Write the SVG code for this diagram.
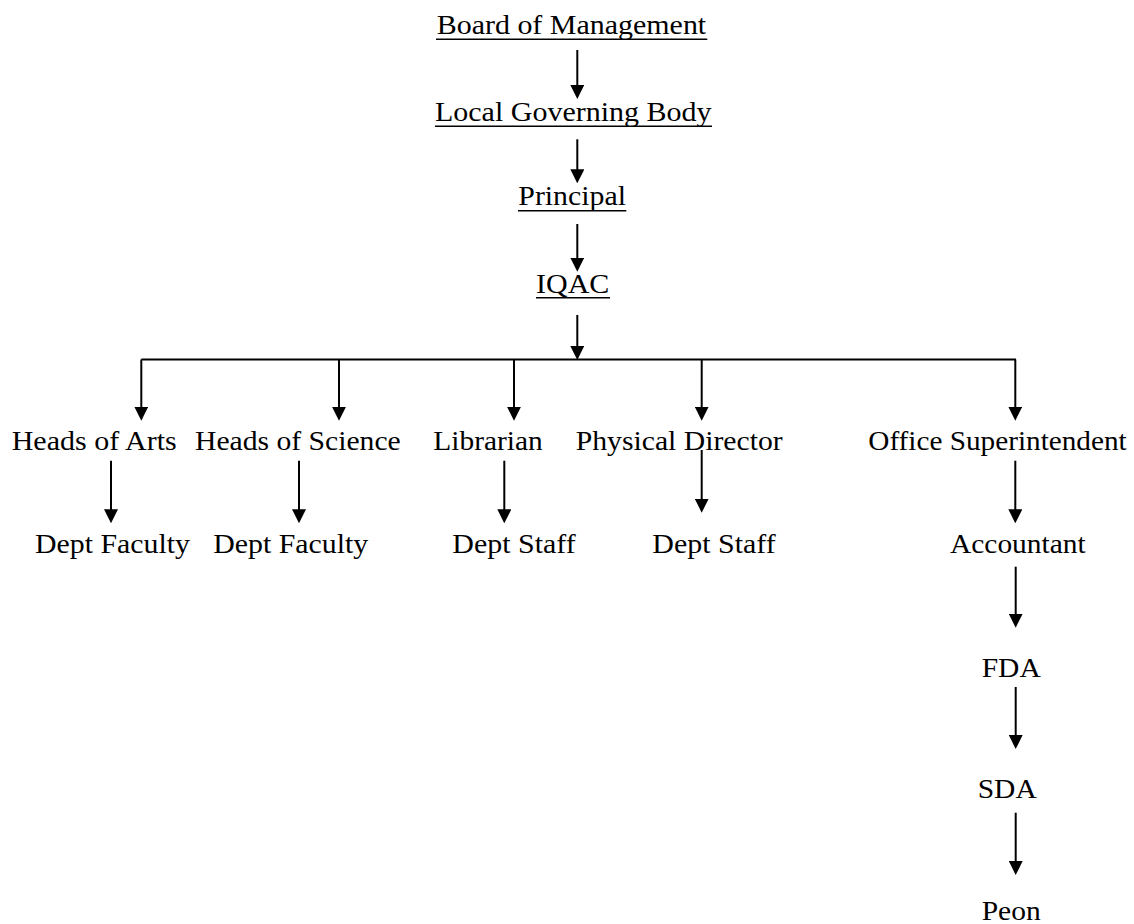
<svg xmlns="http://www.w3.org/2000/svg" width="1134" height="924" viewBox="0 0 1134 924">
<style>
text{font-family:"Liberation Serif","Times New Roman",serif;font-size:28px;fill:#000}
.u{stroke:#000;stroke-width:1.6}
.c line{stroke:#000;stroke-width:2}
.c line.a{marker-end:url(#ah)}
</style>
<defs>
<marker id="ah" viewBox="0 0 14 14" refX="4" refY="7" markerWidth="14" markerHeight="14" markerUnits="userSpaceOnUse" orient="auto">
<path d="M0,0 L14,7 L0,14 z" fill="#000"/>
</marker>
</defs>
<rect width="1134" height="924" fill="#fff"/>
<g class="c" id="connectors">
<line class="a" x1="577.3" y1="50" x2="577.3" y2="89"/>
<line class="a" x1="577.3" y1="139.3" x2="577.3" y2="173.3"/>
<line class="a" x1="577.3" y1="224" x2="577.3" y2="261.7"/>
<line class="a" x1="577.3" y1="315" x2="577.3" y2="350"/>
<line x1="141.3" y1="359.5" x2="1016" y2="359.5"/>
<line class="a" x1="141.3" y1="359.5" x2="141.3" y2="410.7"/>
<line class="a" x1="339" y1="359.5" x2="339" y2="410.7"/>
<line class="a" x1="514" y1="359.5" x2="514" y2="410.7"/>
<line class="a" x1="701.7" y1="359.5" x2="701.7" y2="410.7"/>
<line class="a" x1="1015.3" y1="359.5" x2="1015.3" y2="410.7"/>
<line class="a" x1="111" y1="460.7" x2="111" y2="513.3"/>
<line class="a" x1="299" y1="460.7" x2="299" y2="513.3"/>
<line class="a" x1="504.3" y1="460.7" x2="504.3" y2="513.3"/>
<line class="a" x1="701.7" y1="450" x2="701.7" y2="502.7"/>
<line class="a" x1="1015.3" y1="460.7" x2="1015.3" y2="513.3"/>
<line class="a" x1="1015.7" y1="566.7" x2="1015.7" y2="617.7"/>
<line class="a" x1="1015.7" y1="687" x2="1015.7" y2="739"/>
<line class="a" x1="1015.7" y1="812.7" x2="1015.7" y2="865"/>
</g>
<g id="board">
<text x="436.7" y="34" textLength="269.5" lengthAdjust="spacingAndGlyphs">Board of Management</text>
<line class="u" x1="436" y1="39.3" x2="707.3" y2="39.3"/>
</g>
<g id="lgb">
<text x="435" y="121" textLength="276.5" lengthAdjust="spacingAndGlyphs">Local Governing Body</text>
<line class="u" x1="435" y1="126.2" x2="712" y2="126.2"/>
</g>
<g id="principal">
<text x="518.3" y="205.3" textLength="107.7" lengthAdjust="spacingAndGlyphs">Principal</text>
<line class="u" x1="518" y1="210.7" x2="626.3" y2="210.7"/>
</g>
<g id="iqac">
<text x="536" y="292.5" textLength="73.3" lengthAdjust="spacingAndGlyphs">IQAC</text>
<line class="u" x1="536" y1="297.7" x2="610" y2="297.7"/>
</g>
<g id="heads-arts"><text x="11.7" y="449.5" textLength="165" lengthAdjust="spacingAndGlyphs">Heads of Arts</text></g>
<g id="heads-science"><text x="195" y="449.5" textLength="205.7" lengthAdjust="spacingAndGlyphs">Heads of Science</text></g>
<g id="librarian"><text x="433.3" y="449.5" textLength="109.4" lengthAdjust="spacingAndGlyphs">Librarian</text></g>
<g id="physical-director"><text x="575.7" y="449.5" textLength="207" lengthAdjust="spacingAndGlyphs">Physical Director</text></g>
<g id="office-sup"><text x="868.3" y="449.5" textLength="258.4" lengthAdjust="spacingAndGlyphs">Office Superintendent</text></g>
<g id="dept-faculty-1"><text x="35" y="553.3" textLength="155" lengthAdjust="spacingAndGlyphs">Dept Faculty</text></g>
<g id="dept-faculty-2"><text x="213.3" y="553.3" textLength="155" lengthAdjust="spacingAndGlyphs">Dept Faculty</text></g>
<g id="dept-staff-1"><text x="452.3" y="553.3" textLength="123.4" lengthAdjust="spacingAndGlyphs">Dept Staff</text></g>
<g id="dept-staff-2"><text x="652.3" y="553.3" textLength="123.4" lengthAdjust="spacingAndGlyphs">Dept Staff</text></g>
<g id="accountant"><text x="950" y="553.3" textLength="135.7" lengthAdjust="spacingAndGlyphs">Accountant</text></g>
<g id="fda"><text x="981.7" y="676.7" textLength="59" lengthAdjust="spacingAndGlyphs">FDA</text></g>
<g id="sda"><text x="977.7" y="798" textLength="59" lengthAdjust="spacingAndGlyphs">SDA</text></g>
<g id="peon"><text x="981.7" y="920" textLength="59" lengthAdjust="spacingAndGlyphs">Peon</text></g>
</svg>
